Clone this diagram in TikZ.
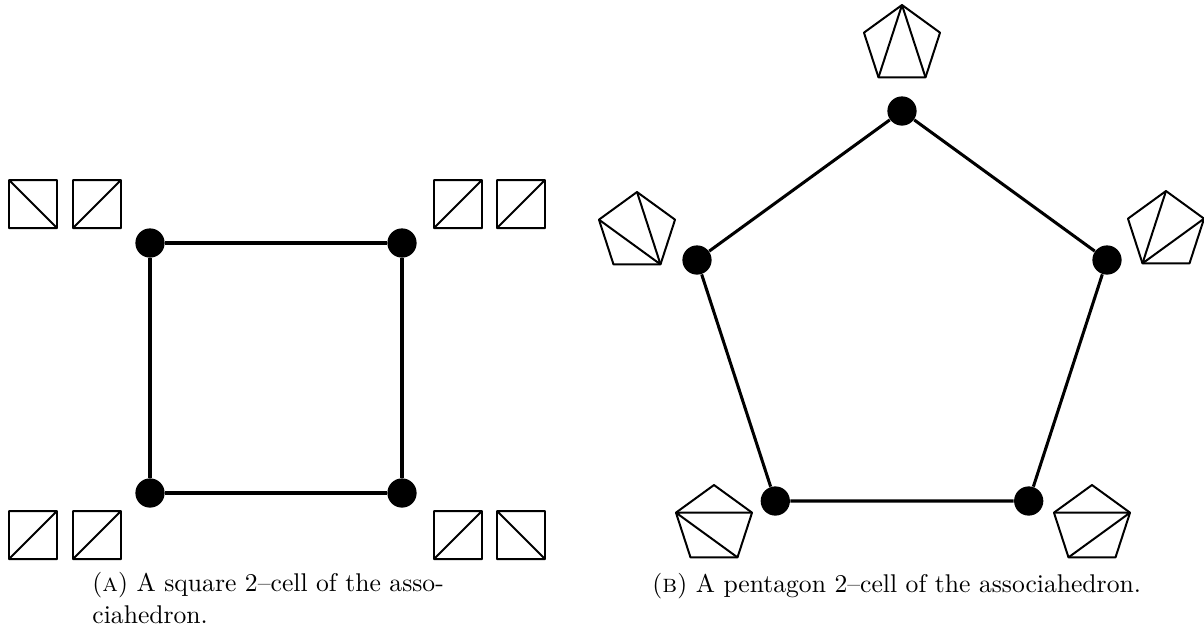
\documentclass[tikz,border=0pt]{standalone}
\begin{document}
\begin{tikzpicture}[x=0.4274pt,y=-0.4274pt,
  vert/.style={circle,fill=black,inner sep=0pt,minimum size=12.5pt},
  edge/.style={line width=1.3pt},
  thinline/.style={line width=0.85pt,line join=round},
  captext/.style={font=\fontsize{10.95}{13.6}\selectfont,inner sep=0pt}]
\useasboundingbox (0,0) rectangle (1204,630);
% ---------- square cell ----------
\node[vert] (s1) at (150,243) {};
\node[vert] (s2) at (402,243) {};
\node[vert] (s3) at (150,493) {};
\node[vert] (s4) at (402,493) {};
\draw[edge] (s1) -- (s2) -- (s4) -- (s3) -- (s1);
% small squares
\draw[thinline] (9,180) rectangle (57,228) (9,180) -- (57,228);
\draw[thinline] (73,180) rectangle (121,228) (73,228) -- (121,180);
\draw[thinline] (434,180) rectangle (482,228) (434,228) -- (482,180);
\draw[thinline] (497,180) rectangle (545,228) (497,228) -- (545,180);
\draw[thinline] (9,511) rectangle (57,559) (9,559) -- (57,511);
\draw[thinline] (73,511) rectangle (121,559) (73,559) -- (121,511);
\draw[thinline] (434,511) rectangle (482,559) (434,559) -- (482,511);
\draw[thinline] (497,511) rectangle (545,559) (497,511) -- (545,559);
% ---------- pentagon cell ----------
\node[vert] (p0) at (902,111) {};
\node[vert] (p1) at (697,260) {};
\node[vert] (p2) at (775.3,501) {};
\node[vert] (p3) at (1028.7,501) {};
\node[vert] (p4) at (1107,260) {};
\draw[edge] (p0) -- (p1) -- (p2) -- (p3) -- (p4) -- (p0);
% small pentagons
\newcommand\smallpent[3]{%
  \coordinate (#1-0) at (#2,#3-40);
  \coordinate (#1-1) at (#2-38.04,#3-12.36);
  \coordinate (#1-2) at (#2-23.51,#3+32.36);
  \coordinate (#1-3) at (#2+23.51,#3+32.36);
  \coordinate (#1-4) at (#2+38.04,#3-12.36);
  \draw[thinline] (#1-0) -- (#1-1) -- (#1-2) -- (#1-3) -- (#1-4) -- cycle;}
\smallpent{t}{902}{45}
\draw[thinline] (t-0) -- (t-2) (t-0) -- (t-3);
\smallpent{l}{637}{232}
\draw[thinline] (l-3) -- (l-1) (l-3) -- (l-0);
\smallpent{r}{1166}{231}
\draw[thinline] (r-2) -- (r-0) (r-2) -- (r-4);
\smallpent{bl}{714}{525}
\draw[thinline] (bl-1) -- (bl-4) (bl-1) -- (bl-3);
\smallpent{br}{1092}{525}
\draw[thinline] (br-1) -- (br-4) (br-4) -- (br-2);
% ---------- captions ----------
\node[captext,anchor=base west,align=left] (capA) at (92,623.8)
  {(\textsc{a}) A square 2--cell of the asso-\\ciahedron.};
\node[captext,anchor=base west] (capB) at (652,592)
  {(\textsc{b}) A pentagon 2--cell of the associahedron.};
\end{tikzpicture}
\end{document}
